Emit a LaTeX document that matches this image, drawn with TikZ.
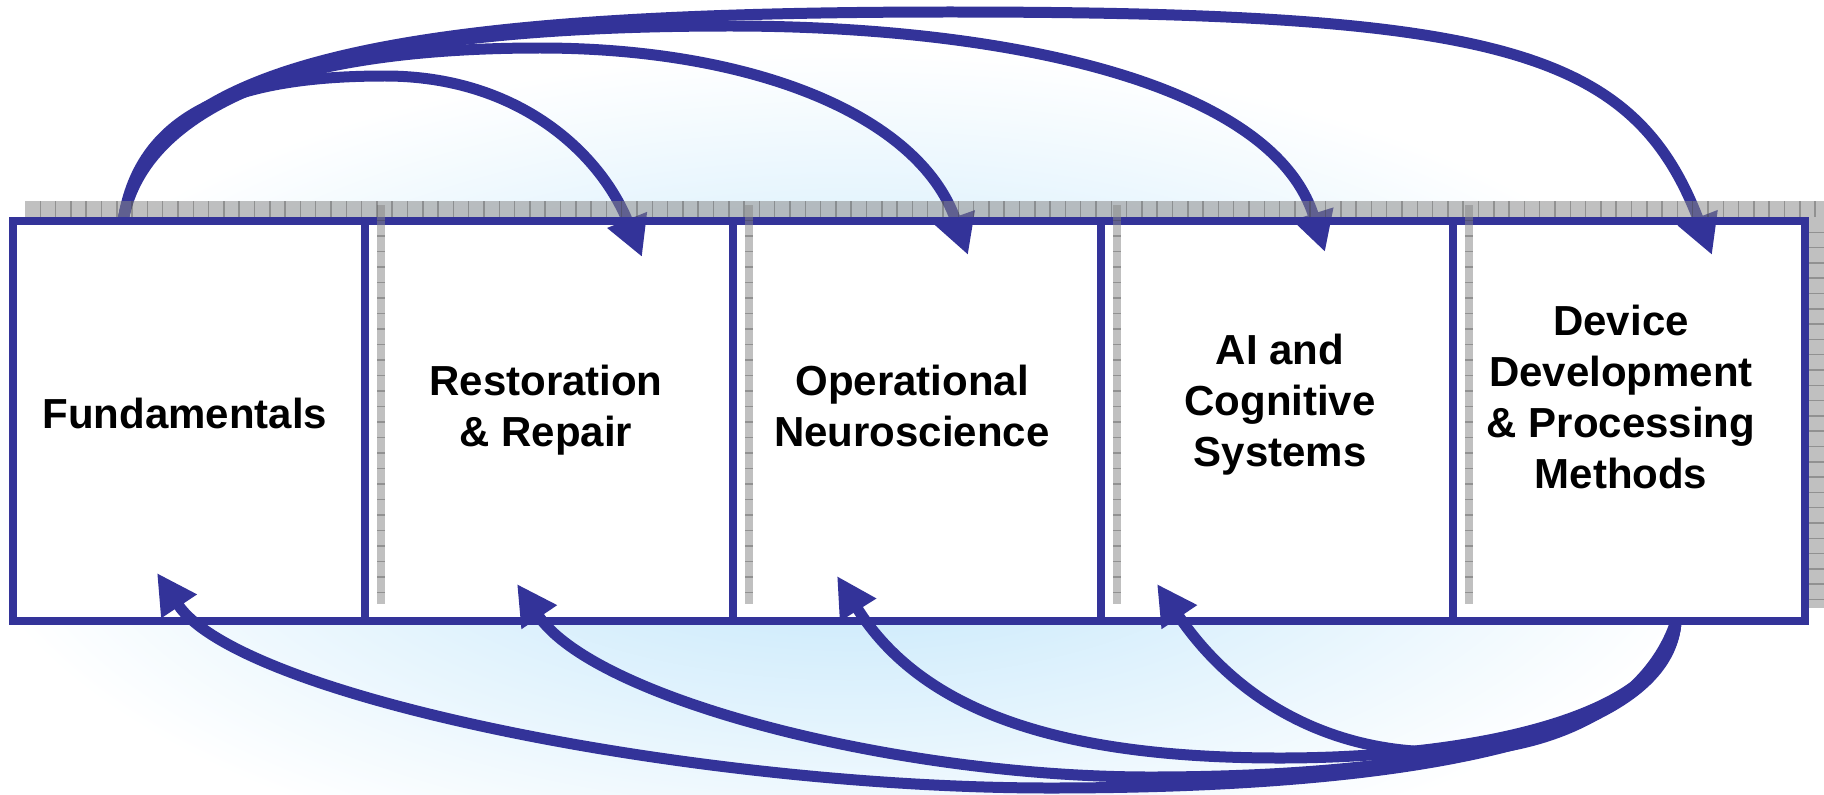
\documentclass[tikz,border=0pt]{standalone}
\usepackage{fontspec}
\setmainfont{Liberation Sans}
\usepackage{xcolor}
\usetikzlibrary{arrows.meta}
\definecolor{navy}{RGB}{51,51,153}
\definecolor{glowblue}{RGB}{184,226,250}
\definecolor{shadowgray}{RGB}{136,136,136}
\definecolor{gridgray}{RGB}{60,60,60}

\tikzset{
  panel/.style={draw=navy, line width=0.16cm, fill=white, minimum height=8cm, inner sep=0pt},
  caption/.style={font=\fontsize{23.9}{29}\selectfont\bfseries, align=center, inner sep=0pt},
  flow/.style={draw=navy, line width=0.22cm, -{Triangle[length=0.8cm, width=0.8cm]}},
  shadowbar/.style={fill=shadowgray, fill opacity=0.53},
  shadowgrid/.style={draw=gridgray, draw opacity=0.35, line width=0.03cm}
}

\begin{document}
\begin{tikzpicture}[x=0.02cm, y=-0.02cm]
    % Canvas
    \useasboundingbox (0,0) rectangle (1824,794);

    % Glow behind the boxes
    \begin{scope}
        \clip (0,0) rectangle (1824,794);
        \shade[inner color=glowblue, outer color=white] (850,470) ellipse [x radius=18cm, y radius=8.4cm];
    \end{scope}

    % Boxes
    \node[panel, minimum width=7.046cm] (fund) at (188.85,421) {};
    \node[panel, minimum width=7.36cm] (rest) at (549,421) {};
    \node[panel, minimum width=7.36cm] (oper) at (917,421) {};
    \node[panel, minimum width=7.04cm] (ai) at (1277,421) {};
    \node[panel, minimum width=7.04cm] (dev) at (1629,421) {};

    % Box texts
    \node[caption] (fundText) at (185,413) {Fundamentals};
    \node[caption] (restText) at (546,410) {Restoration\\ \& Repair};
    \node[caption] (operText) at (912,406) {Operational\\ Neuroscience};
    \node[caption] (aiText) at (1280,405) {AI and\\ Cognitive\\ Systems};
    \node[caption] (devText) at (1621,397) {Device\\ Development\\ \& Processing\\ Methods};

    % Arrow ends
    \coordinate (fundOut) at (123,221); % top of Fundamentals
    \coordinate (devOut) at (1676,621); % bottom of Device box
    \coordinate (restIn) at (642,257);
    \coordinate (operIn) at (968,255);
    \coordinate (aiIn) at (1325,252);
    \coordinate (devIn) at (1712,255);
    \coordinate (fundBack) at (157,573);
    \coordinate (restBack) at (517,584);
    \coordinate (operBack) at (837,576);
    \coordinate (aiBack) at (1157,584);

    % Arrows over the top
    \draw[flow] (fundOut) .. controls (140,110) and (240,76) .. (385,76) .. controls (520,76) and (601,155) .. (restIn);
    \draw[flow] (fundOut) .. controls (145,90) and (330,48) .. (540,48) .. controls (750,48) and (918,114) .. (operIn);
    \draw[flow] (fundOut) .. controls (148,85) and (360,26) .. (730,26) .. controls (1000,26) and (1271,81) .. (aiIn);
    \draw[flow] (fundOut) .. controls (150,60) and (400,12) .. (950,12) .. controls (1500,12) and (1633,50) .. (devIn);

    % Arrows underneath
    \draw[flow] (devOut) .. controls (1670,730) and (1450,788) .. (1050,788) .. controls (700,788) and (240,698) .. (fundBack);
    \draw[flow] (devOut) .. controls (1670,725) and (1450,777) .. (1150,777) .. controls (900,777) and (595,700) .. (restBack);
    \draw[flow] (devOut) .. controls (1670,715) and (1480,758) .. (1280,758) .. controls (1080,758) and (927,720) .. (operBack);
    \draw[flow] (devOut) .. controls (1650,700) and (1560,752) .. (1440,752) .. controls (1320,752) and (1230,692) .. (aiBack);

    % Shadow strips
    \fill[shadowbar] (25,201) rectangle (1824,217);
    \fill[shadowbar] (1809,217) rectangle (1824,608);
    \foreach \d in {365,733,1101,1453}
        \fill[shadowbar] (\d+12,205) rectangle (\d+20,604);
    \foreach \x in {40.3,55.6,...,1824}
        \draw[shadowgrid] (\x,201) -- (\x,217);
    \foreach \y in {232.3,247.6,...,608}
        \draw[shadowgrid] (1809,\y) -- (1824,\y);
    \foreach \d in {365,733,1101,1453}
        \foreach \y in {220.5,236,...,604}
            \draw[shadowgrid] (\d+12,\y) -- (\d+20,\y);
\end{tikzpicture}
\end{document}
